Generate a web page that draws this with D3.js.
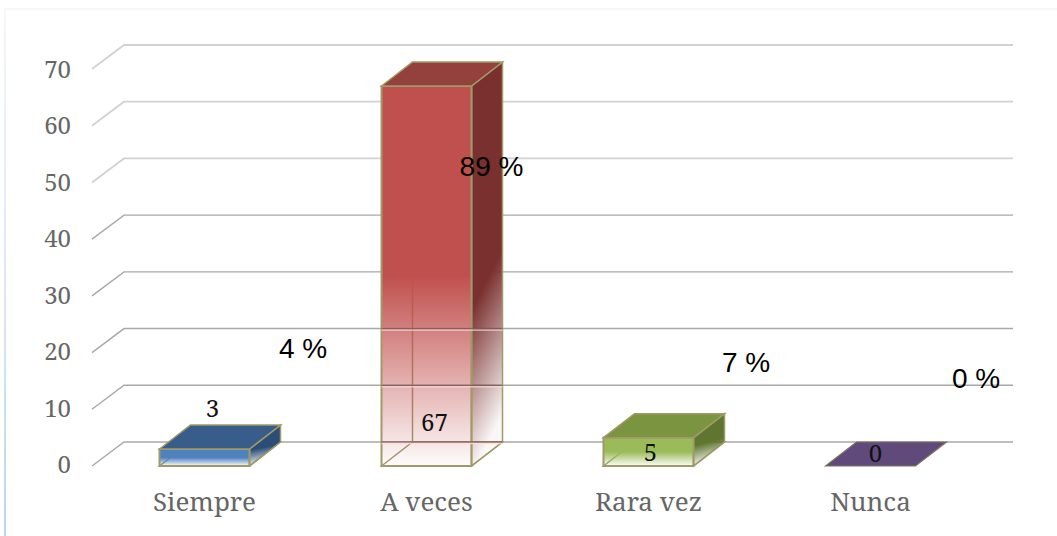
<!DOCTYPE html>
<html><head><meta charset="utf-8">
<script src="https://cdn.jsdelivr.net/npm/d3@7"></script>
<style>html,body{margin:0;padding:0;background:#fff}svg{display:block}</style>
</head><body><svg id="c" width="1057" height="536"></svg>
<script>
const categories = ["Siempre","A veces","Rara vez","Nunca"];
const values = [3,67,5,0];
const percents = [4,89,7,0];
const yTicks = [0,10,20,30,40,50,60,70];
const faceColors = ["#4f81bd","#c0504d","#9bbb59","#8064a2"];
const sideColors = ["#2c4d75","#7a302e","#5f7530","#4d3b62"];
const topColors = ["#385d8a","#94403c","#7a9440","#5f497a"];
const percentOffsets = [[98.5,-108],[65,-290],[97.5,-94],[105.5,-78]];
const valueOffsets = [[8,-49],[8,-35],[2,-5],[5,-4]];

const W=1057,H=536, dx=31, dy=-24;
const serif="'Noto Serif','DejaVu Serif','Liberation Serif',serif";
const svg=d3.select("#c");
const x=d3.scaleBand().domain(categories).range([93.5,981.5]).paddingInner(132/222).paddingOuter(66/222);
const y=d3.scaleLinear().domain([0,70]).range([466,69]);
const yLabel=d3.scaleLinear().domain([0,70]).range([473,78]);
const defs=svg.append("defs");

const bg=defs.append("linearGradient").attr("id","frameL").attr("x1",0).attr("y1",0).attr("x2",0).attr("y2",1);
bg.append("stop").attr("offset",0).attr("stop-color","#f4f7fb");
bg.append("stop").attr("offset",.5).attr("stop-color","#dde8f5");
bg.append("stop").attr("offset",1).attr("stop-color","#bdd3ee");
svg.append("rect").attr("x",4).attr("y",9).attr("width",2).attr("height",H-9).attr("fill","url(#frameL)");
svg.append("rect").attr("x",4).attr("y",8).attr("width",W-4).attr("height",2).attr("fill","#f4f7fb");

categories.forEach((c,i)=>{
  const f=defs.append("linearGradient").attr("id","f"+i).attr("x1",0).attr("y1",0).attr("x2",0).attr("y2",1);
  f.append("stop").attr("offset",0).attr("stop-color",faceColors[i]);
  f.append("stop").attr("offset",.5).attr("stop-color",faceColors[i]);
  f.append("stop").attr("offset",1).attr("stop-color",faceColors[i]).attr("stop-opacity",0.02);
  const s=defs.append("linearGradient").attr("id","s"+i).attr("x1",0).attr("y1",0).attr("x2",0.15).attr("y2",1);
  s.append("stop").attr("offset",0).attr("stop-color",sideColors[i]);
  s.append("stop").attr("offset",.6).attr("stop-color",sideColors[i]);
  s.append("stop").attr("offset",1).attr("stop-color",sideColors[i]).attr("stop-opacity",0.04);
});

// gridlines and slanted wall ticks
svg.append("g").attr("fill","none").selectAll("path").data(yTicks).join("path")
  .attr("d",t=>`M92,${y(t)}L${92+32},${y(t)+dy}H1013`)
  .attr("stroke",t=>t>=50?"#d2d2d2":"#a8a8a8").attr("stroke-width",t=>t>=50?1.8:1.4);

// axis labels
svg.append("g").selectAll("text").data(yTicks).join("text")
  .attr("x",71).attr("y",t=>yLabel(t)).attr("text-anchor","end")
  .attr("font-size",24).attr("class","ax").text(t=>t);
svg.append("g").selectAll("text").data(categories).join("text")
  .attr("x",c=>x(c)+x.bandwidth()/2).attr("y",511).attr("text-anchor","middle")
  .attr("font-size",26).attr("class","ax").text(c=>c);
svg.selectAll(".ax").attr("font-family",serif).attr("fill","#666");

// bars
const edge="#a09a68";
const bars=svg.append("g").selectAll("g").data(categories).join("g");
bars.each(function(c,i){
  const g=d3.select(this), L=x(c), R=L+x.bandwidth(), B=y(0), T=y(values[i]);
  const poly=(pts)=>"M"+pts.map(p=>p.join(",")).join("L")+"Z";
  if(values[i]>0){
    g.append("path").attr("d",poly([[L,B],[L+dx,B+dy],[R+dx,B+dy],[R,B]])).attr("fill","#fff").attr("fill-opacity",.6).attr("stroke",edge).attr("stroke-width",1.5);
    g.append("path").attr("d",`M${L+dx},${B+dy}V${T+dy}`).attr("stroke",edge).attr("stroke-width",1.5);
    g.append("path").attr("d",poly([[R,B],[R+dx,B+dy],[R+dx,T+dy],[R,T]])).attr("fill",`url(#s${i})`).attr("stroke",edge).attr("stroke-width",1.5);
    g.append("rect").attr("x",L).attr("y",T).attr("width",R-L).attr("height",B-T).attr("fill",`url(#f${i})`).attr("stroke",edge).attr("stroke-width",2);
    // gridlines showing through the faded lower half
    const mid=(T+B)/2;
    yTicks.filter(t=>y(t)+dy>mid && y(t)+dy<B).forEach(t=>{
      const yy=y(t)+dy;
      g.append("line").attr("x1",L).attr("x2",R+dx).attr("y1",yy).attr("y2",yy).attr("stroke","#7f5a5a").attr("stroke-opacity",.8).attr("stroke-width",1.3);
      g.append("line").attr("x1",L).attr("x2",R+dx).attr("y1",yy+1.5).attr("y2",yy+1.5).attr("stroke","#ffdcdc").attr("stroke-opacity",.8).attr("stroke-width",1.3);
    });
  }
  g.append("path").attr("d",poly([[L,T],[L+dx,T+dy],[R+dx,T+dy],[R,T]])).attr("fill",values[i]>0?topColors[i]:"#604a7b").attr("stroke",values[i]>0?edge:"#7d7460").attr("stroke-width",values[i]>0?1.5:1.2);
});

// value labels
svg.append("g").selectAll("text").data(categories).join("text")
  .attr("x",(c,i)=>x(c)+x.bandwidth()/2+valueOffsets[i][0])
  .attr("y",(c,i)=>y(0)+valueOffsets[i][1])
  .attr("text-anchor","middle").attr("font-family",serif)
  .attr("font-size",24).attr("fill","#111").text((c,i)=>values[i]);

// percent labels
svg.append("g").selectAll("text").data(categories).join("text")
  .attr("x",(c,i)=>x(c)+x.bandwidth()/2+percentOffsets[i][0])
  .attr("y",(c,i)=>y(0)+percentOffsets[i][1])
  .attr("text-anchor","middle").attr("font-family","'Liberation Sans',Arial,sans-serif")
  .attr("font-size",28).attr("fill","#000").text((c,i)=>percents[i]+" %");
</script></body></html>
